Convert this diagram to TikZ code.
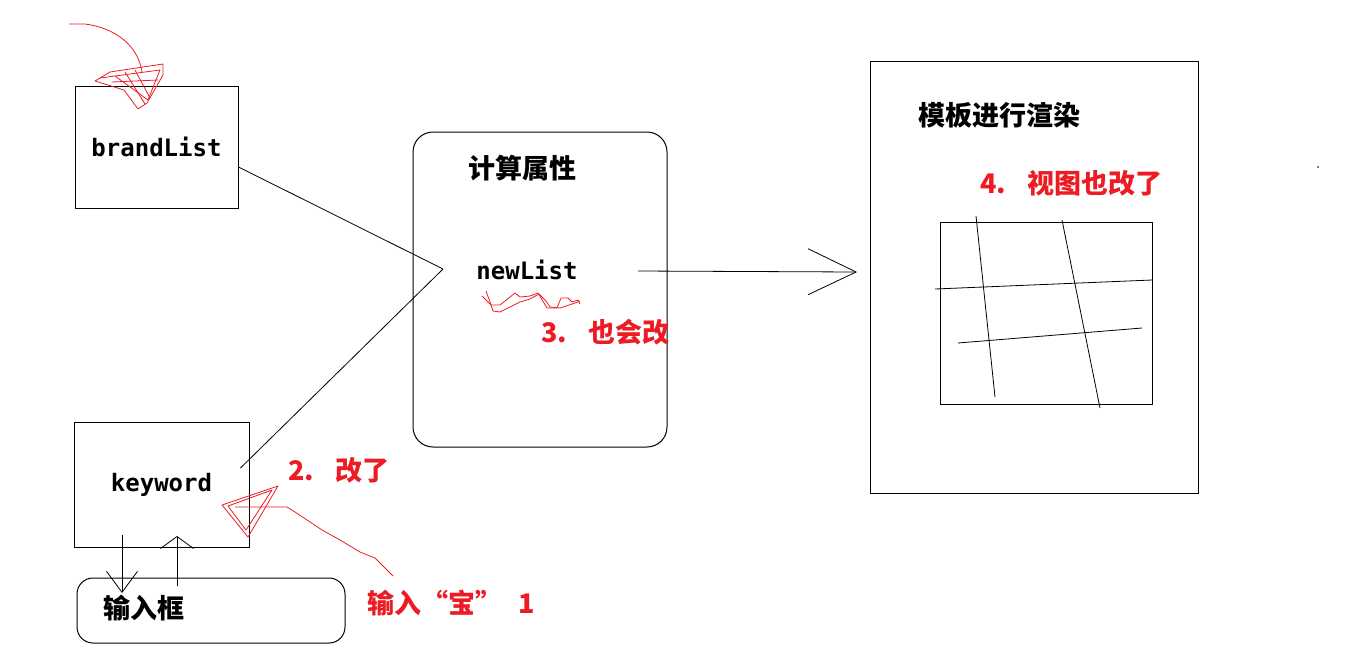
\documentclass[tikz,border=0pt]{standalone}
\usepackage{fontspec}
\setmainfont{DejaVu Sans}
\newfontfamily\cjkfont{Noto Sans CJK SC}
\newfontfamily\codefont{DejaVu Sans Mono}
\usetikzlibrary{arrows.meta, positioning}
\definecolor{paintred}{RGB}{237,28,36}

\tikzset{
  box/.style={draw, line width=1pt, inner sep=0pt},
  code/.style={font=\codefont\bfseries\fontsize{24}{24}\selectfont},
  title/.style={font=\cjkfont\bfseries\fontsize{27}{27}\selectfont, anchor=west, inner sep=0pt},
  note/.style={title, text=paintred},
  wire/.style={line width=0.8pt},
  scribble/.style={paintred, line width=0.8pt, line join=round},
}

\begin{document}
\begin{tikzpicture}[x=1pt, y=-1pt]
    \useasboundingbox (0,0) rectangle (1346,665);

    % Data
    \node[box, code, minimum width=163pt, minimum height=122pt] (brand) at (156.5,147) {brandList};
    \node[box, code, minimum width=175pt, minimum height=125pt] (keyword) at (161.5,484.5) {keyword};
    \node[box, rounded corners=16pt, minimum width=268pt, minimum height=65pt] (inputbox) at (211,610.5) {};
    \node[title] (inputlabel) at (103,608) {输入框};

    % Computed property
    \node[box, rounded corners=20pt, minimum width=254pt, minimum height=315pt] (computed) at (540,289.5) {};
    \node[title] (computedlabel) at (468,168) {计算属性};
    \node[code] (newlist) at (527,270) {newList};

    % Template
    \node[box, minimum width=328pt, minimum height=432pt] (template) at (1034,277) {};
    \node[title] (templatelabel) at (918,115) {模板进行渲染};
    \node[box, minimum width=212pt, minimum height=182pt] (view) at (1046,313) {};
    \draw[wire] (976,216) -- (995,397);
    \draw[wire] (1062,220) -- (1100,408);
    \draw[wire] (935,289) -- (1152,280);
    \draw[wire] (958,343) -- (1142,328);
    \fill (1318,167) circle (0.8);

    % Connectors
    \coordinate (merge) at (443,269);
    \draw[wire] ([yshift=-20pt]brand.east) -- (merge);
    \draw[wire] ([shift={(-9pt,16.5pt)}]keyword.east) -- (merge);
    \coordinate (listout) at (638,271);
    \coordinate (viewin) at (857,272);
    \draw[wire, -{Straight Barb[length=48pt,width=46pt]}] (listout) -- (viewin);

    % Keyword <-> input
    \coordinate (downtop) at (122,535);
    \coordinate (downend) at (122,593);
    \coordinate (upstart) at (177,586);
    \coordinate (upend) at (177,536);
    \draw[wire, -{Straight Barb[length=21pt,width=31pt]}] (downtop) -- (downend);
    \draw[wire, -{Straight Barb[length=12pt,width=33pt]}] (upstart) -- (upend);

    % Red notes
    \node[note] (step2) at (288,470) {2.\hspace{0.8em}改了};
    \node[note] (step3) at (541,332) {3.\hspace{0.8em}也会改};
    \node[note] (step4) at (980,183) {4.\hspace{0.8em}视图也改了};
    \node[note] (step1) at (367,603) {输入“宝”\hspace{0.6em}1};

    % Scribbles
    \draw[scribble] (69,24) -- (85,24) .. controls (115,28) and (138,45) .. (142,72);
    \draw[scribble] (95,81) -- (110,72) -- (163,64) -- (163,75) -- (147,103) -- (138,109) -- (124,90) -- cycle;
    \draw[scribble] (100,78) -- (160,70) -- (148,100) -- (115,76);
    \draw[scribble] (125,72) -- (145,104) (135,70) -- (150,98) (112,82) -- (158,80);
    \draw[scribble] (222,505) -- (278,486) -- (248,537) -- cycle;
    \draw[scribble] (228,506) -- (272,490) -- (246,530) -- cycle;
    \draw[scribble] (235,507) -- (287,507) -- (295,512) -- (322,530) -- (340,540) -- (360,552) -- (375,558) -- (393,576);
    \draw[scribble] (482,296) -- (491,305) -- (500,305) -- (515,293) -- (520,297) -- (530,296) -- (538,293) -- (547,308) -- (557,308) -- (561,298) -- (568,298) -- (572,302) -- (578,300) -- (580,304);
    \draw[scribble] (486,291) -- (490,302) -- (493,311) -- (500,312) -- (510,307) -- (520,302) -- (530,299) -- (539,294) -- (546,301) -- (550,307) -- (560,308) -- (575,303) -- (580,301);
\end{tikzpicture}
\end{document}
